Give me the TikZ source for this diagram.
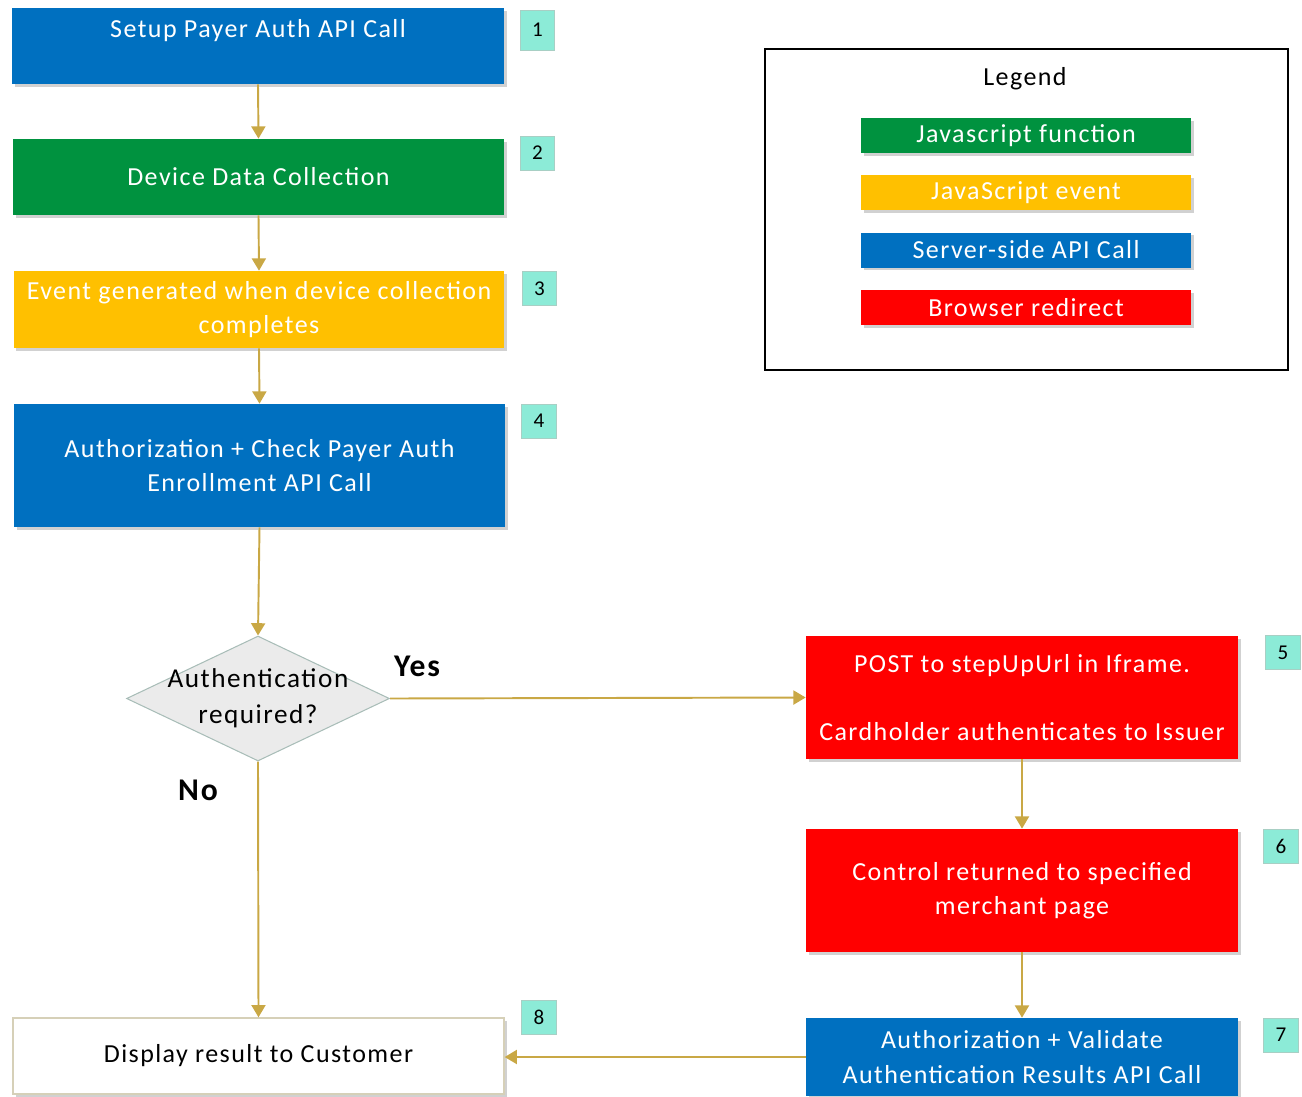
\documentclass[tikz,border=0pt]{standalone}
\usepackage{fontspec}
\setmainfont{Carlito}[LetterSpace=5.5]
\usetikzlibrary{shapes.geometric,arrows.meta,shadows}

\definecolor{apiblue}{HTML}{0070C0}
\definecolor{jsgreen}{HTML}{00923F}
\definecolor{evyellow}{HTML}{FFC000}
\definecolor{redirred}{HTML}{FF0000}
\definecolor{stepteal}{HTML}{8CEBD7}
\definecolor{stepedge}{HTML}{A8CFC4}
\definecolor{flowgold}{HTML}{C9A845}
\definecolor{decgray}{HTML}{EBEBEB}
\definecolor{decedge}{HTML}{A9BDB8}
\definecolor{outedge}{HTML}{D6D0B8}

\tikzset{
  flowbox/.style={rectangle, inner sep=0pt, align=center, text=white,
    font=\fontsize{14.8}{19.5}\selectfont,
    drop shadow={shadow xshift=1.5pt, shadow yshift=-1.5pt, opacity=0.18, fill=black}},
  leftbox/.style={flowbox, minimum width=9.82cm},
  rightbox/.style={flowbox, minimum width=8.64cm},
  keybox/.style={flowbox, minimum width=6.6cm, minimum height=0.7cm},
  stepnum/.style={rectangle, fill=stepteal, draw=stepedge, line width=0.4pt,
    minimum width=0.69cm, minimum height=0.68cm, inner sep=0pt,
    font=\fontsize{12}{14}\selectfont},
  decision/.style={diamond, fill=decgray, draw=decedge, line width=0.6pt,
    minimum width=5.26cm, minimum height=2.5cm, inner sep=0pt,
    font=\fontsize{15.5}{20}\selectfont},
  flowline/.style={draw=flowgold, line width=1.1pt,
    -{Triangle[length=7pt,width=8pt]}},
  answer/.style={font=\fontsize{18}{20}\selectfont\bfseries}
}

\begin{document}
\begin{tikzpicture}[x=0.02cm, y=-0.02cm]
\useasboundingbox (0,0) rectangle (1302,1096);

% main flow, left column
\node[leftbox, fill=apiblue, minimum width=9.84cm, text height=0.58cm, text depth=0.94cm] (setup) at (258,46) {Setup Payer Auth API Call};
\node[leftbox, fill=jsgreen, minimum height=1.52cm] (ddc) at (258.5,177) {Device Data Collection};
\node[leftbox, fill=evyellow, minimum height=1.54cm] (event) at (259,309.5) {Event generated when device collection\\completes};
\node[leftbox, fill=apiblue, minimum height=2.46cm] (enroll) at (259.5,465.5) {Authorization + Check Payer Auth\\Enrollment API Call};
\node[decision] (auth) at (258,698.5) {\makebox[0pt]{\begin{tabular}{@{}c@{}}Authentication\\required?\end{tabular}}};
\node[leftbox, fill=white, draw=outedge, line width=0.8pt, text=black, minimum height=1.52cm] (display) at (258.5,1056) {Display result to Customer};

% right column
\node[rightbox, fill=redirred, minimum height=2.46cm] (stepup) at (1022,697.5) {POST to stepUpUrl in Iframe.\\[19.5pt]Cardholder authenticates to Issuer};
\node[rightbox, fill=redirred, minimum height=2.46cm] (control) at (1022,890.5) {Control returned to specified\\merchant page};
\node[rightbox, fill=apiblue, minimum height=1.56cm] (validate) at (1022,1057) {Authorization + Validate\\Authentication Results API Call};

% step numbers
\node[stepnum, minimum height=0.8cm] (n1) at (537.5,30) {1};
\node[stepnum] (n2) at (537.5,153) {2};
\node[stepnum] (n3) at (539.5,288.5) {3};
\node[stepnum] (n4) at (539,421) {4};
\node[stepnum] (n5) at (1283,652.5) {5};
\node[stepnum] (n6) at (1281,846) {6};
\node[stepnum] (n7) at (1281,1035) {7};
\node[stepnum] (n8) at (539,1017) {8};

% legend
\node[draw=black, line width=0.9pt, minimum width=10.46cm, minimum height=6.42cm] (legend) at (1026.5,209.5) {};
\node[font=\fontsize{14.8}{17}\selectfont] (legendtitle) at (1025,79) {Legend};
\node[keybox, fill=jsgreen] (keyfunc) at (1026,135.5) {Javascript function};
\node[keybox, fill=evyellow] (keyevent) at (1026,192.5) {JavaScript event};
\node[keybox, fill=apiblue] (keyapi) at (1026,250) {Server-side API Call};
\node[keybox, fill=redirred] (keyredir) at (1026,307.5) {Browser redirect};

% connectors
\draw[flowline] (setup.south) -- (ddc.north);
\draw[flowline] (ddc.south) -- (event.north);
\draw[flowline] (event.south) -- (enroll.north);
\draw[flowline] (enroll.south) -- (auth.north);
\draw[flowline] (auth.east) -- (stepup.west);
\draw[flowline] (auth.south) -- (display.north);
\draw[flowline] (stepup.south) -- (control.north);
\draw[flowline] (control.south) -- (validate.north);
\draw[flowline] (validate.west) -- (validate.west -| display.east);

\node[answer] (lblyes) at (417,666) {Yes};
\node[answer] (lblno) at (198,790) {No};
\end{tikzpicture}
\end{document}
